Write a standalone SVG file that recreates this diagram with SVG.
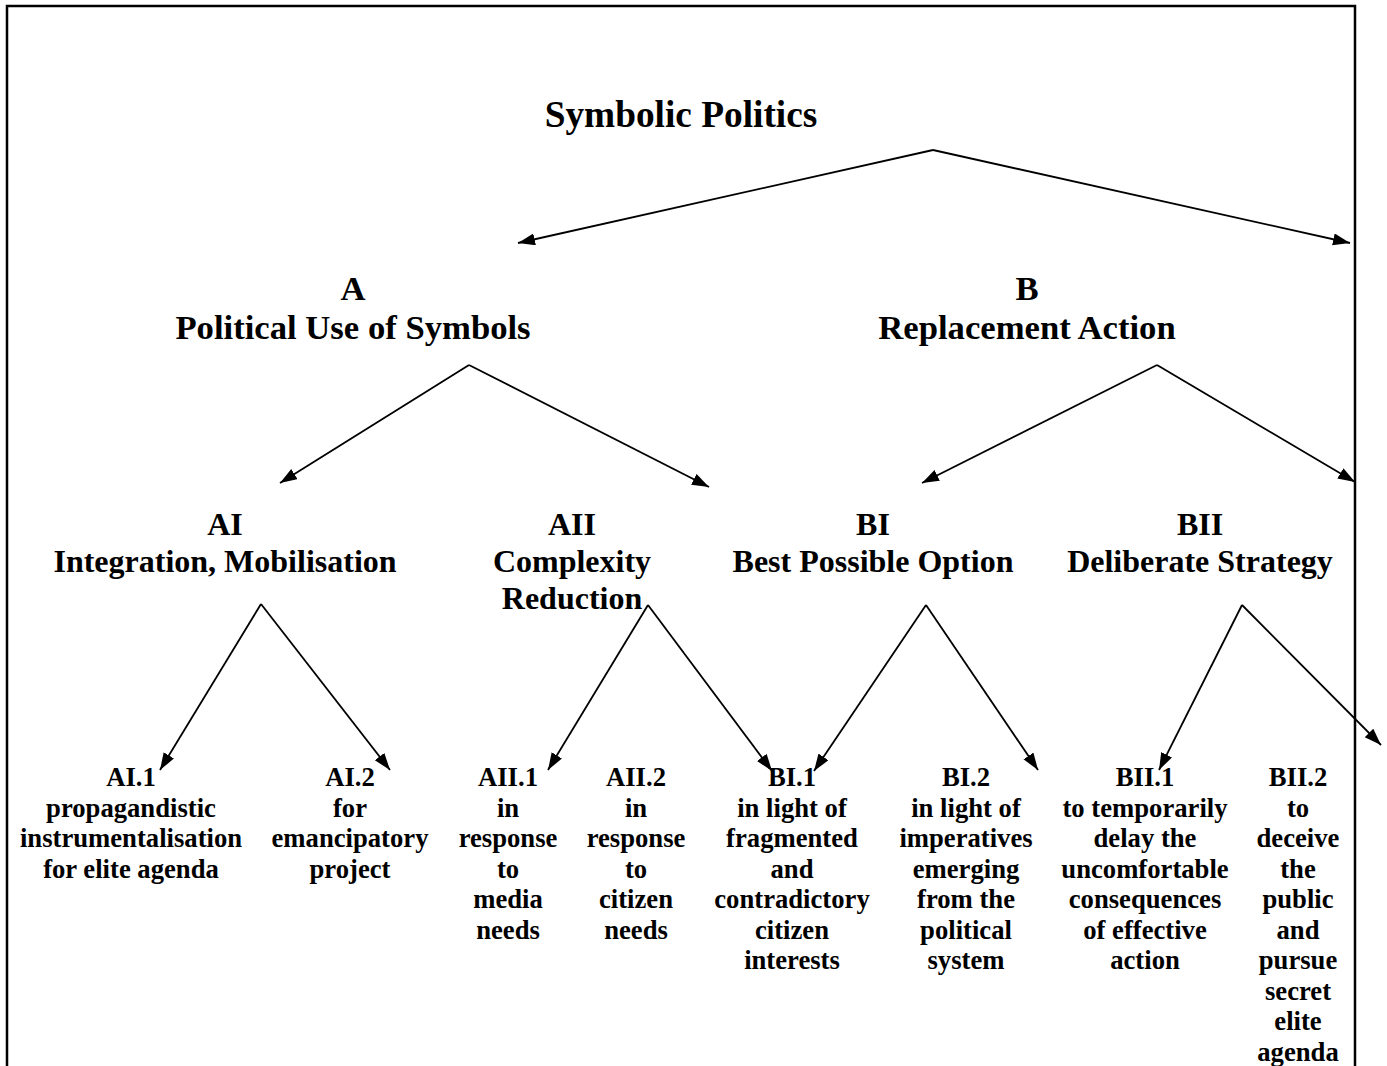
<svg xmlns="http://www.w3.org/2000/svg" width="1387" height="1066" viewBox="0 0 1387 1066">
  <defs>
    <marker id="arrow" markerUnits="userSpaceOnUse" markerWidth="18" markerHeight="13" refX="17" refY="6" orient="auto">
      <path d="M0,0 L17,6 L0,12 z" fill="#000"/>
    </marker>
    <style>
      text { font-family: "Liberation Serif", "Times New Roman", serif; font-weight: bold; fill: #000; text-anchor: middle; }
      .title { font-size: 37.33px; }
      .l1 { font-size: 34.67px; }
      .l2 { font-size: 32px; }
      .leaf { font-size: 26.67px; }
      .conn line { stroke: #000; stroke-width: 1.8; marker-end: url(#arrow); }
    </style>
  </defs>

  <rect width="1387" height="1066" fill="#fff"/>
  <!-- frame: open at the bottom -->
  <path d="M7,1070 V6 H1355 V1070" fill="none" stroke="#000" stroke-width="2.5"/>

  <g id="connectors" class="conn">
    <line x1="933" y1="150" x2="518" y2="243"/>
    <line x1="933" y1="150" x2="1350" y2="243"/>
    <line x1="469" y1="365" x2="280" y2="483"/>
    <line x1="469" y1="365" x2="709" y2="487"/>
    <line x1="1157" y1="365" x2="922" y2="483"/>
    <line x1="1157" y1="365" x2="1355" y2="482"/>
    <line x1="261" y1="604" x2="160" y2="770"/>
    <line x1="261" y1="604" x2="390" y2="770"/>
    <line x1="648" y1="605" x2="548" y2="770"/>
    <line x1="648" y1="605" x2="772" y2="771"/>
    <line x1="926" y1="605" x2="814" y2="771"/>
    <line x1="926" y1="605" x2="1038" y2="770"/>
    <line x1="1242" y1="605" x2="1159" y2="770"/>
    <line x1="1242" y1="605" x2="1381" y2="745"/>
  </g>

  <g id="root">
    <text class="title" x="681" y="127">Symbolic Politics</text>
  </g>

  <g id="A">
    <text class="l1" x="353" y="300">A</text>
    <text class="l1" x="353" y="339">Political Use of Symbols</text>
  </g>
  <g id="B">
    <text class="l1" x="1027" y="300">B</text>
    <text class="l1" x="1027" y="339">Replacement Action</text>
  </g>

  <g id="AI">
    <text class="l2" x="225" y="535">AI</text>
    <text class="l2" x="225" y="572">Integration, Mobilisation</text>
  </g>
  <g id="AII">
    <text class="l2" x="572" y="535">AII</text>
    <text class="l2" x="572" y="572">Complexity</text>
    <text class="l2" x="572" y="609">Reduction</text>
  </g>
  <g id="BI">
    <text class="l2" x="873" y="535">BI</text>
    <text class="l2" x="873" y="572">Best Possible Option</text>
  </g>
  <g id="BII">
    <text class="l2" x="1200" y="535">BII</text>
    <text class="l2" x="1200" y="572">Deliberate Strategy</text>
  </g>

  <g id="AI1">
    <text class="leaf" x="131" y="786">AI.1</text>
    <text class="leaf" x="131" y="816.5">propagandistic</text>
    <text class="leaf" x="131" y="847">instrumentalisation</text>
    <text class="leaf" x="131" y="877.5">for elite agenda</text>
  </g>
  <g id="AI2">
    <text class="leaf" x="350" y="786">AI.2</text>
    <text class="leaf" x="350" y="816.5">for</text>
    <text class="leaf" x="350" y="847">emancipatory</text>
    <text class="leaf" x="350" y="877.5">project</text>
  </g>
  <g id="AII1">
    <text class="leaf" x="508" y="786">AII.1</text>
    <text class="leaf" x="508" y="816.5">in</text>
    <text class="leaf" x="508" y="847">response</text>
    <text class="leaf" x="508" y="877.5">to</text>
    <text class="leaf" x="508" y="908">media</text>
    <text class="leaf" x="508" y="938.5">needs</text>
  </g>
  <g id="AII2">
    <text class="leaf" x="636" y="786">AII.2</text>
    <text class="leaf" x="636" y="816.5">in</text>
    <text class="leaf" x="636" y="847">response</text>
    <text class="leaf" x="636" y="877.5">to</text>
    <text class="leaf" x="636" y="908">citizen</text>
    <text class="leaf" x="636" y="938.5">needs</text>
  </g>
  <g id="BI1">
    <text class="leaf" x="792" y="786">BI.1</text>
    <text class="leaf" x="792" y="816.5">in light of</text>
    <text class="leaf" x="792" y="847">fragmented</text>
    <text class="leaf" x="792" y="877.5">and</text>
    <text class="leaf" x="792" y="908">contradictory</text>
    <text class="leaf" x="792" y="938.5">citizen</text>
    <text class="leaf" x="792" y="969">interests</text>
  </g>
  <g id="BI2">
    <text class="leaf" x="966" y="786">BI.2</text>
    <text class="leaf" x="966" y="816.5">in light of</text>
    <text class="leaf" x="966" y="847">imperatives</text>
    <text class="leaf" x="966" y="877.5">emerging</text>
    <text class="leaf" x="966" y="908">from the</text>
    <text class="leaf" x="966" y="938.5">political</text>
    <text class="leaf" x="966" y="969">system</text>
  </g>
  <g id="BII1">
    <text class="leaf" x="1145" y="786">BII.1</text>
    <text class="leaf" x="1145" y="816.5">to temporarily</text>
    <text class="leaf" x="1145" y="847">delay the</text>
    <text class="leaf" x="1145" y="877.5">uncomfortable</text>
    <text class="leaf" x="1145" y="908">consequences</text>
    <text class="leaf" x="1145" y="938.5">of effective</text>
    <text class="leaf" x="1145" y="969">action</text>
  </g>
  <g id="BII2">
    <text class="leaf" x="1298" y="786">BII.2</text>
    <text class="leaf" x="1298" y="816.5">to</text>
    <text class="leaf" x="1298" y="847">deceive</text>
    <text class="leaf" x="1298" y="877.5">the</text>
    <text class="leaf" x="1298" y="908">public</text>
    <text class="leaf" x="1298" y="938.5">and</text>
    <text class="leaf" x="1298" y="969">pursue</text>
    <text class="leaf" x="1298" y="999.5">secret</text>
    <text class="leaf" x="1298" y="1030">elite</text>
    <text class="leaf" x="1298" y="1060.5">agenda</text>
  </g>
</svg>
